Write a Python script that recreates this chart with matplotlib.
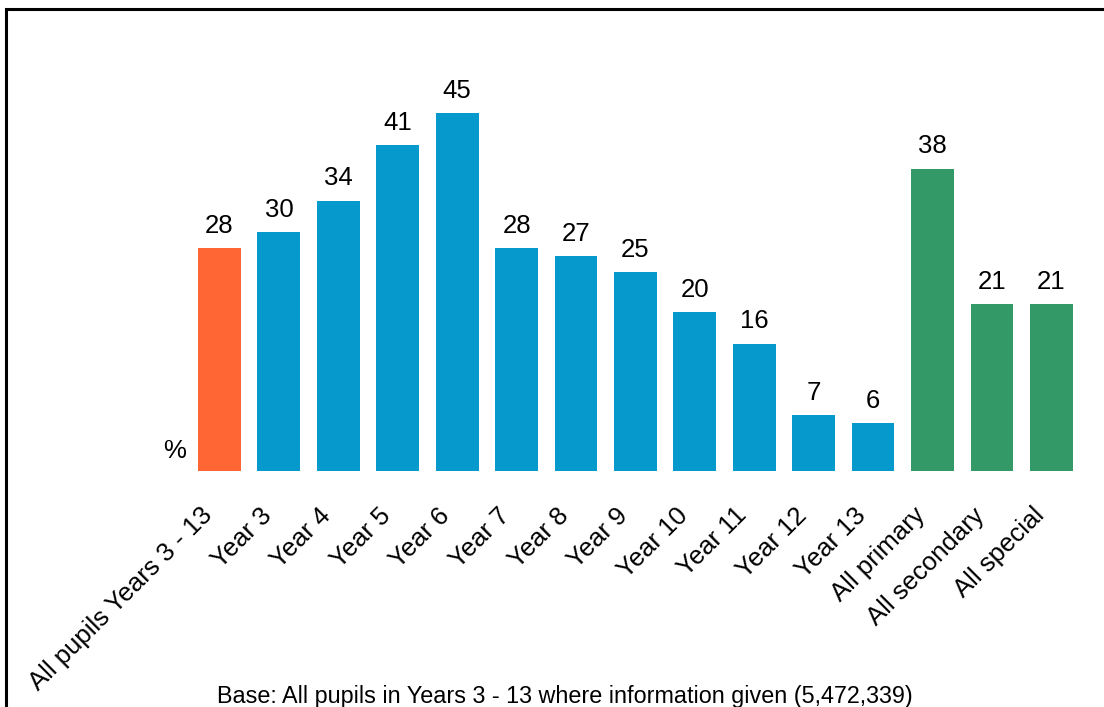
import numpy as np
import matplotlib.pyplot as plt
from matplotlib.patches import Rectangle
from matplotlib.transforms import ScaledTranslation

plt.rcParams['font.family'] = ['Liberation Sans', 'DejaVu Sans']

categories = ['All pupils Years 3 - 13', 'Year 3', 'Year 4', 'Year 5', 'Year 6',
              'Year 7', 'Year 8', 'Year 9', 'Year 10', 'Year 11', 'Year 12',
              'Year 13', 'All primary', 'All secondary', 'All special']
values = [28, 30, 34, 41, 45, 28, 27, 25, 20, 16, 7, 6, 38, 21, 21]
groups = ['all'] + ['year'] * 11 + ['phase'] * 3
base_note = 'Base: All pupils in Years 3 - 13 where information given (5,472,339)'

group_colors = {'all': '#FF6633', 'year': '#0599CC', 'phase': '#339966'}

fig = plt.figure(figsize=(11.04, 7.07), dpi=100)
W, H = 1104, 707

# axes placed so that bars sit where they do in the original
ax = fig.add_axes([174.9 / W, (H - 471) / H, (1087 - 174.9) / W, 413.7 / H])
x = np.arange(len(categories))
cols = [group_colors[g] for g in groups]
bars = ax.bar(x, values, width=0.72, color=cols)

ax.set_xlim(-0.75, 14.6)
ax.set_ylim(0, 52)

for b, v in zip(bars, values):
    ax.annotate(str(v), (b.get_x() + b.get_width() / 2, v),
                xytext=(0, 11), textcoords='offset points',
                ha='center', va='baseline', fontsize=18.5)

ax.set_xticks(x)
ax.set_xticklabels(categories, rotation=45, ha='right', va='center',
                   rotation_mode='anchor', fontsize=18.5)
ax.tick_params(axis='x', length=0, pad=25)
# nudge labels a little left/down like the original
shift = ScaledTranslation(-11 / 100, -6 / 100, fig.dpi_scale_trans)
for lab in ax.get_xticklabels():
    lab.set_transform(lab.get_transform() + shift)
ax.set_yticks([])
for s in ax.spines.values():
    s.set_visible(False)

ax.text(-0.75, 1.0, '%', ha='center', va='bottom', fontsize=18.5)

fig.text(565 / W, (H - 697) / H, base_note, ha='center', va='center', fontsize=16.8)

# outer frame (runs off the right and bottom edges)
fig.patches.append(Rectangle((6 / W, -0.1), 1.2, 1.1 - 9 / H,
                             transform=fig.transFigure, fill=False,
                             edgecolor='black', linewidth=2.2))

fig.savefig('out.png', dpi=100)
